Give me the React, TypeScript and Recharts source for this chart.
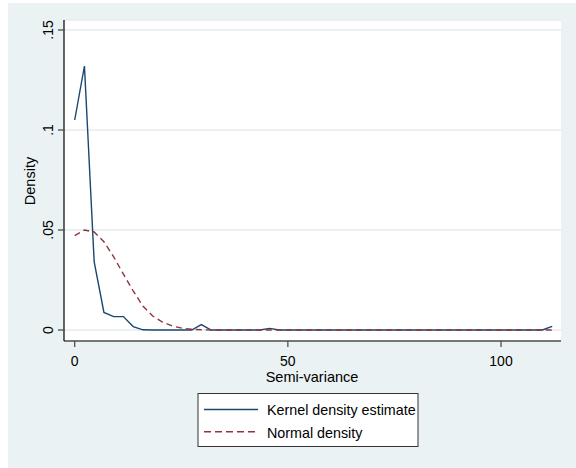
import React from "react";
import { LineChart, Line, XAxis, YAxis, CartesianGrid } from "recharts";

const semiVariance = [
  0, 2.286, 4.571, 6.857, 9.143, 11.429, 13.714, 16.0, 18.286, 20.571,
  22.857, 25.143, 27.429, 29.714, 32.0, 34.286, 36.571, 38.857, 41.143, 43.429,
  45.714, 48.0, 50.286, 52.571, 54.857, 57.143, 59.429, 61.714, 64.0, 66.286,
  68.571, 70.857, 73.143, 75.429, 77.714, 80.0, 82.286, 84.571, 86.857, 89.143,
  91.429, 93.714, 96.0, 98.286, 100.571, 102.857, 105.143, 107.429, 109.714, 112.0,
];

const kernelDensity = [
  0.105, 0.132, 0.034, 0.0088, 0.0067, 0.0067, 0.0017, 0.0001, 0, 0,
  0, 0, 0, 0.0027, 0, 0, 0, 0, 0, 0,
  0.0008, 0, 0, 0, 0, 0, 0, 0, 0, 0,
  0, 0, 0, 0, 0, 0, 0, 0, 0, 0,
  0, 0, 0, 0, 0, 0, 0, 0, 0, 0.0018,
];

const normalDensity = [
  0.0472, 0.05, 0.049, 0.0441, 0.0366, 0.0279, 0.0196, 0.012, 0.007, 0.004,
  0.002, 0.0009, 0.0004, 0.0001, 0, 0, 0, 0, 0, 0,
  0, 0, 0, 0, 0, 0, 0, 0, 0, 0,
  0, 0, 0, 0, 0, 0, 0, 0, 0, 0,
  0, 0, 0, 0, 0, 0, 0, 0, 0, 0,
];

const xTicks = [0, 50, 100];
const yTicks = [0, 0.05, 0.1, 0.15];
const yTickLabels = ["0", ".05", ".1", ".15"];

const seriesNames = ["Kernel density estimate", "Normal density"];

const data = semiVariance.map((x, i) => ({
  x,
  kernel: kernelDensity[i],
  normal: normalDensity[i],
}));

const FONT = "'Liberation Sans', Arial, sans-serif";
const NAVY = "#1a476f";
const MAROON = "#90353b";
const BG = "#eaf2f3";

const YTick = (props: any) => {
  const { y, payload } = props;
  const idx = yTicks.indexOf(payload.value);
  const label = idx >= 0 ? yTickLabels[idx] : String(payload.value);
  const tx = 44.5;
  return (
    <text
      x={tx}
      y={y}
      transform={`rotate(-90 ${tx} ${y})`}
      textAnchor="middle"
      fontSize={14}
      fontFamily={FONT}
      fill="#000"
    >
      {label}
    </text>
  );
};

const XTick = (props: any) => {
  const { x, payload } = props;
  return (
    <text x={x} y={363} textAnchor="middle" fontSize={14} fontFamily={FONT} fill="#000">
      {payload.value}
    </text>
  );
};

export default function App() {
  const W = 568;
  const H = 465;
  return (
    <div
      style={{
        position: "absolute",
        left: 8,
        top: 3,
        width: W,
        height: H,
        background: BG,
      }}
    >
      <LineChart
        width={W}
        height={H}
        data={data}
        margin={{ top: 17, right: 15, bottom: 97, left: 16 }}
      >
        <CartesianGrid vertical={false} stroke="#e4ecee" strokeWidth={1.5} fill="#ffffff" />
        <XAxis
          dataKey="x"
          type="number"
          domain={[-2.51, 114.07]}
          ticks={xTicks}
          height={30}
          axisLine={{ stroke: "#000", strokeWidth: 1.2 }}
          tickLine={{ stroke: "#444", strokeWidth: 1.2 }}
          tickSize={6}
          tick={<XTick />}
          interval={0}
          allowDataOverflow
        />
        <YAxis
          type="number"
          domain={[-0.0055, 0.155]}
          ticks={yTicks}
          width={40}
          axisLine={{ stroke: "#000", strokeWidth: 1.2 }}
          tickLine={{ stroke: "#444", strokeWidth: 1.2 }}
          tickSize={6}
          tick={<YTick />}
          interval={0}
          allowDataOverflow
        />
        <Line
          type="linear"
          dataKey="kernel"
          stroke={NAVY}
          strokeWidth={1.4}
          dot={false}
          activeDot={false}
          isAnimationActive={false}
        />
        <Line
          type="linear"
          dataKey="normal"
          stroke={MAROON}
          strokeWidth={1.4}
          strokeDasharray="6 4"
          dot={false}
          activeDot={false}
          isAnimationActive={false}
        />
      </LineChart>
      <svg
        width={W}
        height={H}
        style={{ position: "absolute", left: 0, top: 0, pointerEvents: "none" }}
      >
        <text
          x={26.5}
          y={178}
          transform="rotate(-90 26.5 178)"
          textAnchor="middle"
          fontSize={14.5}
          fontFamily={FONT}
          fill="#000"
        >
          Density
        </text>
        <text x={304} y={378.7} textAnchor="middle" fontSize={14.5} fontFamily={FONT} fill="#000">
          Semi-variance
        </text>
        <rect x={190} y={390.5} width={220} height={53} fill="#fff" stroke="#333" strokeWidth={1} />
        <line x1={196} y1={406.5} x2={250} y2={406.5} stroke={NAVY} strokeWidth={1.4} />
        <line
          x1={196}
          y1={428.7}
          x2={250}
          y2={428.7}
          stroke={MAROON}
          strokeWidth={1.4}
          strokeDasharray="7 4"
        />
        <text x={259} y={412} fontSize={14.3} fontFamily={FONT} fill="#000">
          {seriesNames[0]}
        </text>
        <text x={259} y={435} fontSize={14.3} fontFamily={FONT} fill="#000">
          {seriesNames[1]}
        </text>
      </svg>
    </div>
  );
}
